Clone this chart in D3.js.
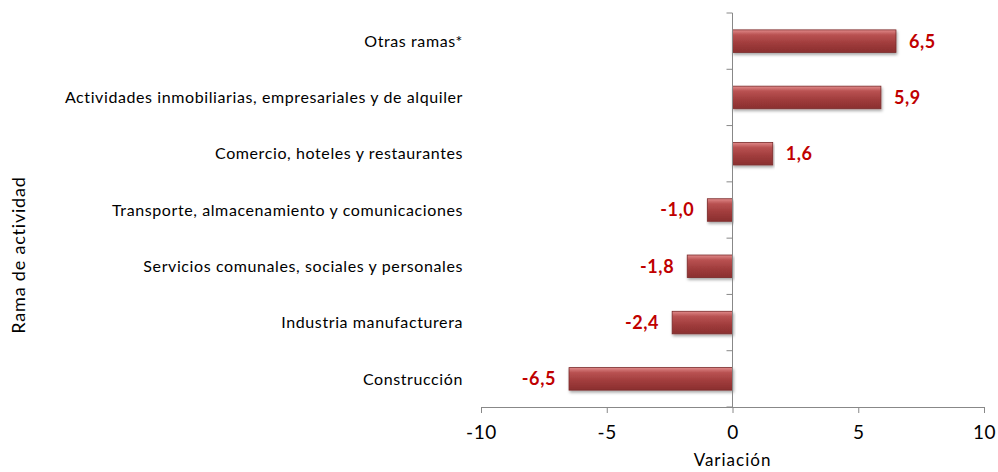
<!DOCTYPE html>
<html>
<head>
<meta charset="utf-8">
<script src="https://cdn.jsdelivr.net/npm/d3@7"></script>
<style>
  body { margin: 0; background: #fff; }
  svg { display: block; font-family: Lato, "Open Sans", sans-serif; }
</style>
</head>
<body>
<svg id="chart" width="998" height="472"></svg>
<script>
var categories = [
  'Otras ramas*',
  'Actividades inmobiliarias, empresariales y de alquiler',
  'Comercio, hoteles y restaurantes',
  'Transporte, almacenamiento y comunicaciones',
  'Servicios comunales, sociales y personales',
  'Industria manufacturera',
  'Construcción'
];
var values = [6.5, 5.9, 1.6, -1.0, -1.8, -2.4, -6.5];
var xTicks = [-10, -5, 0, 5, 10];

var svg = d3.select('#chart');
var plotLeft = 481, plotRight = 984, plotTop = 13, plotBottom = 407;

var x = d3.scaleLinear().domain([-10, 10]).range([plotLeft, plotRight]);
var y = d3.scaleBand().domain(categories).range([plotTop, plotBottom]).paddingInner(0.6).paddingOuter(0.3);
var yb = d3.scaleBand().domain(categories).range([plotTop, plotBottom]);

var fmt = function(d) { return d.toFixed(1).replace('.', ','); };

var defs = svg.append('defs');
var grad = defs.append('linearGradient').attr('id', 'barGrad')
  .attr('x1', 0).attr('y1', 0).attr('x2', 0).attr('y2', 1);
grad.append('stop').attr('offset', '0%').attr('stop-color', '#e08a8a');
grad.append('stop').attr('offset', '22%').attr('stop-color', '#b95252');
grad.append('stop').attr('offset', '60%').attr('stop-color', '#a03c3c');
grad.append('stop').attr('offset', '100%').attr('stop-color', '#8a2f2f');
var shadow = defs.append('filter').attr('id', 'shadow')
  .attr('x', '-5%').attr('y', '-30%').attr('width', '110%').attr('height', '170%');
shadow.append('feDropShadow').attr('dx', 1).attr('dy', 2).attr('stdDeviation', 1.5)
  .attr('flood-color', '#000').attr('flood-opacity', 0.35);

// bars
svg.append('g').selectAll('rect')
  .data(values)
  .enter().append('rect')
  .attr('x', function(d) { return x(Math.min(0, d)); })
  .attr('y', function(d, i) { return y(categories[i]); })
  .attr('width', function(d) { return Math.abs(x(d) - x(0)); })
  .attr('height', y.bandwidth())
  .attr('fill', 'url(#barGrad)')
  .attr('stroke', '#7a2a2a')
  .attr('stroke-width', 0.8)
  .attr('filter', 'url(#shadow)');

// value labels
svg.append('g').selectAll('text')
  .data(values)
  .enter().append('text')
  .attr('x', function(d) { return d >= 0 ? x(d) + 13 : x(d) - 13; })
  .attr('y', function(d, i) { return y(categories[i]) + y.bandwidth() / 2; })
  .attr('dy', '0.36em')
  .attr('text-anchor', function(d) { return d >= 0 ? 'start' : 'end'; })
  .attr('fill', '#c00000')
  .attr('font-weight', 'bold')
  .attr('font-size', 18)
  .attr('letter-spacing', 0.6)
  .text(fmt);

// x axis
var xAxis = svg.append('g')
  .attr('transform', 'translate(0,' + plotBottom + ')')
  .call(d3.axisBottom(x).tickValues(xTicks).tickFormat(String).tickSizeOuter(0).tickSize(6).tickPadding(13));
xAxis.select('.domain').attr('stroke', '#888');
xAxis.selectAll('.tick line').attr('stroke', '#888');
xAxis.selectAll('.tick text').attr('font-size', 19).attr('fill', '#000')
  .attr('letter-spacing', 0.6)
  .attr('font-family', 'Lato, "Open Sans", sans-serif');

// y axis at zero
var yAxis = svg.append('g')
  .attr('transform', 'translate(' + x(0) + ',0)');
yAxis.append('line')
  .attr('x1', 0).attr('x2', 0).attr('y1', plotTop).attr('y2', plotBottom)
  .attr('stroke', '#888');
yAxis.selectAll('line.tk')
  .data(categories.concat(['end']))
  .enter().append('line')
  .attr('class', 'tk')
  .attr('x1', -6).attr('x2', 0)
  .attr('y1', function(d, i) { return plotTop + i * yb.bandwidth(); })
  .attr('y2', function(d, i) { return plotTop + i * yb.bandwidth(); })
  .attr('stroke', '#888');

// category labels
svg.append('g').selectAll('text')
  .data(categories)
  .enter().append('text')
  .attr('x', 463)
  .attr('y', function(d) { return yb(d) + yb.bandwidth() / 2; })
  .attr('dy', '0.36em')
  .attr('text-anchor', 'end')
  .attr('font-size', 16)
  .attr('letter-spacing', 0.6)
  .attr('fill', '#000')
  .text(function(d) { return d; });

// axis titles
svg.append('text')
  .attr('x', x(0))
  .attr('y', 466)
  .attr('text-anchor', 'middle')
  .attr('font-size', 17)
  .attr('letter-spacing', 1)
  .text('Variación');
svg.append('text')
  .attr('transform', 'translate(25,255) rotate(-90)')
  .attr('text-anchor', 'middle')
  .attr('font-size', 18)
  .attr('letter-spacing', 0.8)
  .text('Rama de actividad');
</script>
</body>
</html>
